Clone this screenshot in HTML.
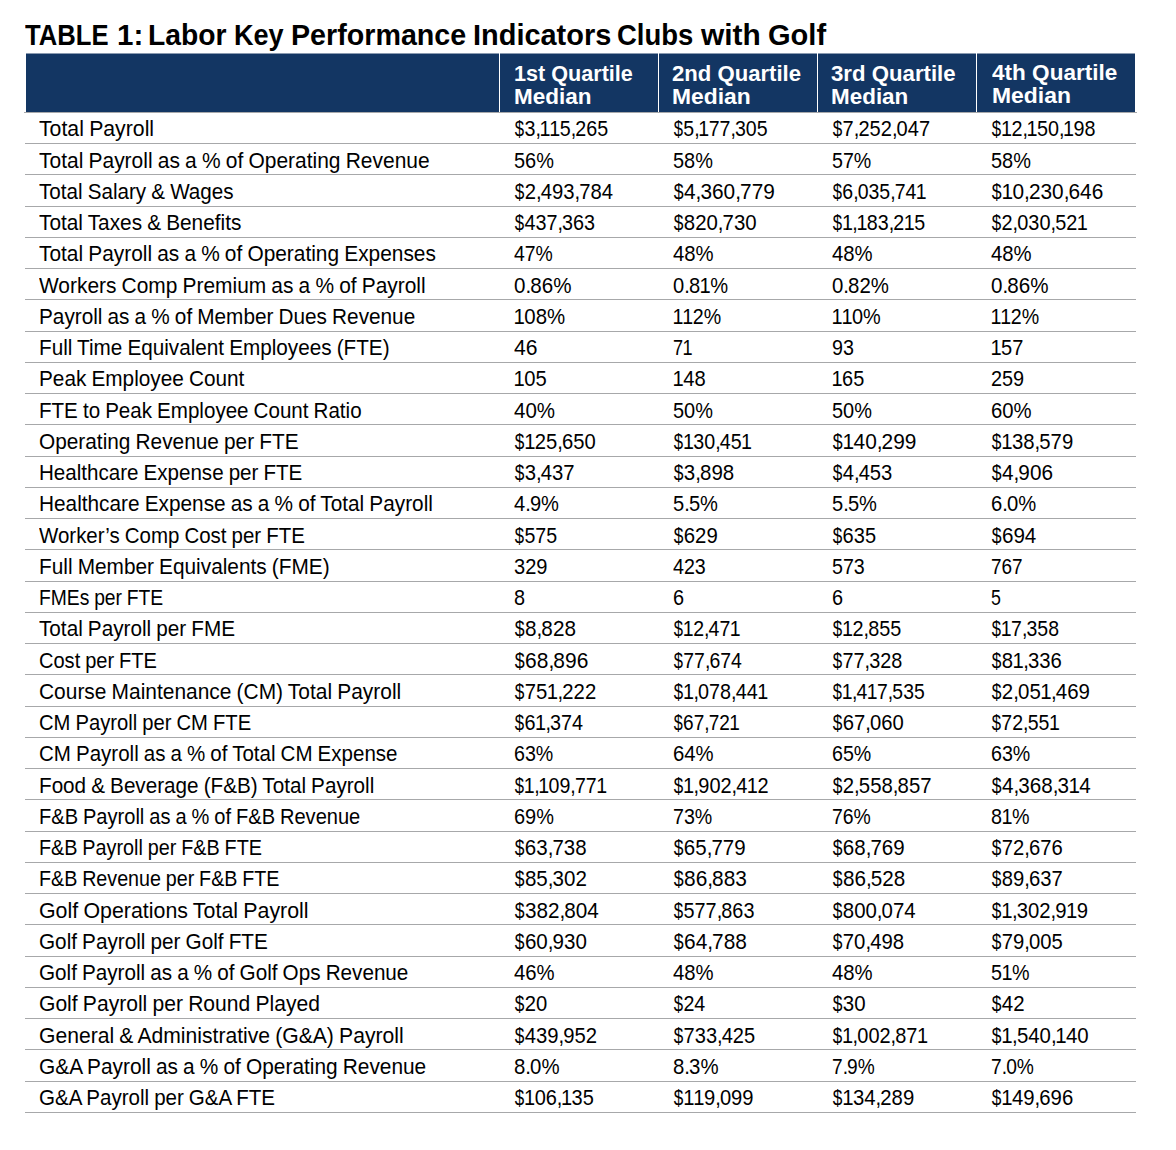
<!DOCTYPE html>
<html><head><meta charset="utf-8"><style>
html,body{margin:0;padding:0;background:#fff;}
body{width:1176px;height:1150px;position:relative;overflow:hidden;font-family:"Liberation Sans",sans-serif;color:#000;-webkit-text-stroke:0px;}
.t{position:absolute;white-space:nowrap;line-height:30px;font-size:22.5px;}
.s{display:inline-block;transform-origin:0 50%;}
.ln{position:absolute;height:1px;background:#a7a8aa;left:25px;width:1111px;}
.hd{position:absolute;left:26px;top:53px;width:1109px;height:59px;background:#133663;}
.hd i{position:absolute;left:0;top:0;width:100%;height:1px;background:#8a9ab0;}
.vd{position:absolute;top:0;width:1px;height:59px;background:#fff;}
.h{color:#fff;font-weight:bold;font-size:22.5px;}
i{font-style:normal;}
.o{margin:0 -0.6px;}
.c{margin-right:-1.0px;}
.p{margin-right:-1.0px;}
.d{display:inline-block;transform:scaleX(0.85);margin:0 -0.3px;}
</style></head><body>
<div class="t" style="left:25.0px;top:19.95px;font-size:29px;font-weight:bold"><span class="s" style="transform:scaleX(0.884)">TABLE</span></div>
<div class="t" style="left:116.76px;top:19.95px;font-size:29px;font-weight:bold"><span class="s" style="transform:scaleX(1.019)">1:</span></div>
<div class="t" style="left:148.45px;top:19.95px;font-size:29px;font-weight:bold"><span class="s" style="transform:scaleX(0.9744)">Labor</span></div>
<div class="t" style="left:234.33px;top:19.95px;font-size:29px;font-weight:bold"><span class="s" style="transform:scaleX(0.9333)">Key</span></div>
<div class="t" style="left:291.12px;top:19.95px;font-size:29px;font-weight:bold"><span class="s" style="transform:scaleX(0.9885)">Performance</span></div>
<div class="t" style="left:473.0px;top:19.95px;font-size:29px;font-weight:bold"><span class="s" style="transform:scaleX(0.9978)">Indicators</span></div>
<div class="t" style="left:617.45px;top:19.95px;font-size:29px;font-weight:bold"><span class="s" style="transform:scaleX(0.9474)">Clubs</span></div>
<div class="t" style="left:701.3px;top:19.95px;font-size:29px;font-weight:bold"><span class="s" style="transform:scaleX(1.0304)">with</span></div>
<div class="t" style="left:767.6px;top:19.95px;font-size:29px;font-weight:bold"><span class="s" style="transform:scaleX(1.0018)">Golf</span></div>
<div class="hd"><i></i><div class="vd" style="left:473px"></div><div class="vd" style="left:632px"></div><div class="vd" style="left:791px"></div><div class="vd" style="left:950px"></div></div>
<div class="t h" style="left:513.5px;top:59.20px"><span class="s" style="transform:scaleX(0.9603)">1st Quartile</span></div>
<div class="t h" style="left:513.5px;top:82.20px"><span class="s" style="transform:scaleX(0.9987)">Median</span></div>
<div class="t h" style="left:672.1px;top:59.20px"><span class="s" style="transform:scaleX(0.9832)">2nd Quartile</span></div>
<div class="t h" style="left:672.1px;top:82.20px"><span class="s" style="transform:scaleX(1.0158)">Median</span></div>
<div class="t h" style="left:831.2px;top:59.20px"><span class="s" style="transform:scaleX(0.9865)">3rd Quartile</span></div>
<div class="t h" style="left:831.2px;top:82.20px"><span class="s" style="transform:scaleX(0.9974)">Median</span></div>
<div class="t h" style="left:992px;top:58.20px"><span class="s" style="transform:scaleX(1.0024)">4th Quartile</span></div>
<div class="t h" style="left:992px;top:81.20px"><span class="s" style="transform:scaleX(1.0184)">Median</span></div>
<div class="ln" style="left:24px;width:1113px;top:112px"></div>
<div class="ln" style="top:143px"></div>
<div class="ln" style="top:174px"></div>
<div class="ln" style="top:206px"></div>
<div class="ln" style="top:237px"></div>
<div class="ln" style="top:268px"></div>
<div class="ln" style="top:299px"></div>
<div class="ln" style="top:331px"></div>
<div class="ln" style="top:362px"></div>
<div class="ln" style="top:393px"></div>
<div class="ln" style="top:424px"></div>
<div class="ln" style="top:456px"></div>
<div class="ln" style="top:487px"></div>
<div class="ln" style="top:518px"></div>
<div class="ln" style="top:549px"></div>
<div class="ln" style="top:581px"></div>
<div class="ln" style="top:612px"></div>
<div class="ln" style="top:643px"></div>
<div class="ln" style="top:674px"></div>
<div class="ln" style="top:706px"></div>
<div class="ln" style="top:737px"></div>
<div class="ln" style="top:768px"></div>
<div class="ln" style="top:799px"></div>
<div class="ln" style="top:831px"></div>
<div class="ln" style="top:862px"></div>
<div class="ln" style="top:893px"></div>
<div class="ln" style="top:924px"></div>
<div class="ln" style="top:956px"></div>
<div class="ln" style="top:987px"></div>
<div class="ln" style="top:1018px"></div>
<div class="ln" style="top:1049px"></div>
<div class="ln" style="top:1081px"></div>
<div class="ln" style="top:1112px"></div>
<div class="t" style="left:38.5px;top:114.00px;word-spacing:-0.7px"><span class="s" style="transform:scaleX(0.9444)">Total Payroll</span></div>
<div class="t" style="left:514px;top:114.00px"><span class="s" style="transform:scaleX(0.8748)"><i class="d">$</i>3<i class="c">,</i><i class="o">1</i><i class="o">1</i>5<i class="c">,</i>265</span></div>
<div class="t" style="left:673px;top:114.00px"><span class="s" style="transform:scaleX(0.8685)"><i class="d">$</i>5<i class="c">,</i><i class="o">1</i>77<i class="c">,</i>305</span></div>
<div class="t" style="left:832px;top:114.00px"><span class="s" style="transform:scaleX(0.8908)"><i class="d">$</i>7<i class="c">,</i>252<i class="c">,</i>047</span></div>
<div class="t" style="left:991px;top:114.00px"><span class="s" style="transform:scaleX(0.8780)"><i class="d">$</i><i class="o">1</i>2<i class="c">,</i><i class="o">1</i>50<i class="c">,</i><i class="o">1</i>98</span></div>
<div class="t" style="left:38.5px;top:146.00px;word-spacing:-0.7px"><span class="s" style="transform:scaleX(0.9321)">Total Payroll as a % of Operating Revenue</span></div>
<div class="t" style="left:514px;top:146.00px"><span class="s" style="transform:scaleX(0.8867)">56%</span></div>
<div class="t" style="left:673px;top:146.00px"><span class="s" style="transform:scaleX(0.8867)">58%</span></div>
<div class="t" style="left:832px;top:146.00px"><span class="s" style="transform:scaleX(0.8733)">57%</span></div>
<div class="t" style="left:991px;top:146.00px"><span class="s" style="transform:scaleX(0.8867)">58%</span></div>
<div class="t" style="left:38.5px;top:177.00px;word-spacing:-0.7px"><span class="s" style="transform:scaleX(0.9173)">Total Salary &amp; Wages</span></div>
<div class="t" style="left:514px;top:177.00px"><span class="s" style="transform:scaleX(0.9000)"><i class="d">$</i>2<i class="c">,</i>493<i class="c">,</i>784</span></div>
<div class="t" style="left:673px;top:177.00px"><span class="s" style="transform:scaleX(0.9248)"><i class="d">$</i>4<i class="c">,</i>360<i class="c">,</i>779</span></div>
<div class="t" style="left:832px;top:177.00px"><span class="s" style="transform:scaleX(0.8651)"><i class="d">$</i>6<i class="c">,</i>035<i class="c">,</i>74<i class="o">1</i></span></div>
<div class="t" style="left:991px;top:177.00px"><span class="s" style="transform:scaleX(0.9248)"><i class="d">$</i><i class="o">1</i>0<i class="c">,</i>230<i class="c">,</i>646</span></div>
<div class="t" style="left:38.5px;top:208.00px;word-spacing:-0.7px"><span class="s" style="transform:scaleX(0.9245)">Total Taxes &amp; Benefits</span></div>
<div class="t" style="left:514px;top:208.00px"><span class="s" style="transform:scaleX(0.8783)"><i class="d">$</i>437<i class="c">,</i>363</span></div>
<div class="t" style="left:673px;top:208.00px"><span class="s" style="transform:scaleX(0.9065)"><i class="d">$</i>820<i class="c">,</i>730</span></div>
<div class="t" style="left:832px;top:208.00px"><span class="s" style="transform:scaleX(0.8745)"><i class="d">$</i><i class="o">1</i><i class="c">,</i><i class="o">1</i>83<i class="c">,</i>2<i class="o">1</i>5</span></div>
<div class="t" style="left:991px;top:208.00px"><span class="s" style="transform:scaleX(0.8844)"><i class="d">$</i>2<i class="c">,</i>030<i class="c">,</i>52<i class="o">1</i></span></div>
<div class="t" style="left:38.5px;top:239.00px;word-spacing:-0.7px"><span class="s" style="transform:scaleX(0.9277)">Total Payroll as a % of Operating Expenses</span></div>
<div class="t" style="left:514px;top:239.00px"><span class="s" style="transform:scaleX(0.8622)">47%</span></div>
<div class="t" style="left:673px;top:239.00px"><span class="s" style="transform:scaleX(0.9022)">48%</span></div>
<div class="t" style="left:832px;top:239.00px"><span class="s" style="transform:scaleX(0.9022)">48%</span></div>
<div class="t" style="left:991px;top:239.00px"><span class="s" style="transform:scaleX(0.9022)">48%</span></div>
<div class="t" style="left:38.5px;top:271.00px;word-spacing:-0.7px"><span class="s" style="transform:scaleX(0.9293)">Workers Comp Premium as a % of Payroll</span></div>
<div class="t" style="left:514px;top:271.00px"><span class="s" style="transform:scaleX(0.9145)">0<i class="p">.</i>86%</span></div>
<div class="t" style="left:673px;top:271.00px"><span class="s" style="transform:scaleX(0.8934)">0<i class="p">.</i>8<i class="o">1</i>%</span></div>
<div class="t" style="left:832px;top:271.00px"><span class="s" style="transform:scaleX(0.9065)">0<i class="p">.</i>82%</span></div>
<div class="t" style="left:991px;top:271.00px"><span class="s" style="transform:scaleX(0.9145)">0<i class="p">.</i>86%</span></div>
<div class="t" style="left:38.5px;top:302.00px;word-spacing:-0.7px"><span class="s" style="transform:scaleX(0.9225)">Payroll as a % of Member Dues Revenue</span></div>
<div class="t" style="left:514px;top:302.00px"><span class="s" style="transform:scaleX(0.9071)"><i class="o">1</i>08%</span></div>
<div class="t" style="left:673px;top:302.00px"><span class="s" style="transform:scaleX(0.8727)"><i class="o">1</i><i class="o">1</i>2%</span></div>
<div class="t" style="left:832px;top:302.00px"><span class="s" style="transform:scaleX(0.8836)"><i class="o">1</i><i class="o">1</i>0%</span></div>
<div class="t" style="left:991px;top:302.00px"><span class="s" style="transform:scaleX(0.8727)"><i class="o">1</i><i class="o">1</i>2%</span></div>
<div class="t" style="left:38.5px;top:333.00px;word-spacing:-0.7px"><span class="s" style="transform:scaleX(0.9199)">Full Time Equivalent Employees (FTE)</span></div>
<div class="t" style="left:514px;top:333.00px"><span class="s" style="transform:scaleX(0.9375)">46</span></div>
<div class="t" style="left:673px;top:333.00px"><span class="s" style="transform:scaleX(0.8042)">7<i class="o">1</i></span></div>
<div class="t" style="left:832px;top:333.00px"><span class="s" style="transform:scaleX(0.8750)">93</span></div>
<div class="t" style="left:991px;top:333.00px"><span class="s" style="transform:scaleX(0.8914)"><i class="o">1</i>57</span></div>
<div class="t" style="left:38.5px;top:364.00px;word-spacing:-0.7px"><span class="s" style="transform:scaleX(0.9227)">Peak Employee Count</span></div>
<div class="t" style="left:514px;top:364.00px"><span class="s" style="transform:scaleX(0.8972)"><i class="o">1</i>05</span></div>
<div class="t" style="left:673px;top:364.00px"><span class="s" style="transform:scaleX(0.8972)"><i class="o">1</i>48</span></div>
<div class="t" style="left:832px;top:364.00px"><span class="s" style="transform:scaleX(0.8861)"><i class="o">1</i>65</span></div>
<div class="t" style="left:991px;top:364.00px"><span class="s" style="transform:scaleX(0.8838)">259</span></div>
<div class="t" style="left:38.5px;top:396.00px;word-spacing:-0.7px"><span class="s" style="transform:scaleX(0.9140)">FTE to Peak Employee Count Ratio</span></div>
<div class="t" style="left:514px;top:396.00px"><span class="s" style="transform:scaleX(0.9111)">40%</span></div>
<div class="t" style="left:673px;top:396.00px"><span class="s" style="transform:scaleX(0.8867)">50%</span></div>
<div class="t" style="left:832px;top:396.00px"><span class="s" style="transform:scaleX(0.8867)">50%</span></div>
<div class="t" style="left:991px;top:396.00px"><span class="s" style="transform:scaleX(0.9022)">60%</span></div>
<div class="t" style="left:38.5px;top:427.00px;word-spacing:-0.7px"><span class="s" style="transform:scaleX(0.9252)">Operating Revenue per FTE</span></div>
<div class="t" style="left:514px;top:427.00px"><span class="s" style="transform:scaleX(0.8978)"><i class="d">$</i><i class="o">1</i>25<i class="c">,</i>650</span></div>
<div class="t" style="left:673px;top:427.00px"><span class="s" style="transform:scaleX(0.8733)"><i class="d">$</i><i class="o">1</i>30<i class="c">,</i>45<i class="o">1</i></span></div>
<div class="t" style="left:832px;top:427.00px"><span class="s" style="transform:scaleX(0.9267)"><i class="d">$</i><i class="o">1</i>40<i class="c">,</i>299</span></div>
<div class="t" style="left:991px;top:427.00px"><span class="s" style="transform:scaleX(0.9022)"><i class="d">$</i><i class="o">1</i>38<i class="c">,</i>579</span></div>
<div class="t" style="left:38.5px;top:458.00px;word-spacing:-0.7px"><span class="s" style="transform:scaleX(0.9141)">Healthcare Expense per FTE</span></div>
<div class="t" style="left:514px;top:458.00px"><span class="s" style="transform:scaleX(0.9015)"><i class="d">$</i>3<i class="c">,</i>437</span></div>
<div class="t" style="left:673px;top:458.00px"><span class="s" style="transform:scaleX(0.9104)"><i class="d">$</i>3<i class="c">,</i>898</span></div>
<div class="t" style="left:832px;top:458.00px"><span class="s" style="transform:scaleX(0.8970)"><i class="d">$</i>4<i class="c">,</i>453</span></div>
<div class="t" style="left:991px;top:458.00px"><span class="s" style="transform:scaleX(0.9209)"><i class="d">$</i>4<i class="c">,</i>906</span></div>
<div class="t" style="left:38.5px;top:489.00px;word-spacing:-0.7px"><span class="s" style="transform:scaleX(0.9243)">Healthcare Expense as a % of Total Payroll</span></div>
<div class="t" style="left:514px;top:489.00px"><span class="s" style="transform:scaleX(0.8940)">4<i class="p">.</i>9%</span></div>
<div class="t" style="left:673px;top:489.00px"><span class="s" style="transform:scaleX(0.8940)">5<i class="p">.</i>5%</span></div>
<div class="t" style="left:832px;top:489.00px"><span class="s" style="transform:scaleX(0.8940)">5<i class="p">.</i>5%</span></div>
<div class="t" style="left:991px;top:489.00px"><span class="s" style="transform:scaleX(0.8980)">6<i class="p">.</i>0%</span></div>
<div class="t" style="left:38.5px;top:521.00px;word-spacing:-0.7px"><span class="s" style="transform:scaleX(0.9094)">Worker&#8217;s Comp Cost per FTE</span></div>
<div class="t" style="left:514px;top:521.00px"><span class="s" style="transform:scaleX(0.8714)"><i class="d">$</i>575</span></div>
<div class="t" style="left:673px;top:521.00px"><span class="s" style="transform:scaleX(0.9041)"><i class="d">$</i>629</span></div>
<div class="t" style="left:832px;top:521.00px"><span class="s" style="transform:scaleX(0.8898)"><i class="d">$</i>635</span></div>
<div class="t" style="left:991px;top:521.00px"><span class="s" style="transform:scaleX(0.9163)"><i class="d">$</i>694</span></div>
<div class="t" style="left:38.5px;top:552.00px;word-spacing:-0.7px"><span class="s" style="transform:scaleX(0.9247)">Full Member Equivalents (FME)</span></div>
<div class="t" style="left:514px;top:552.00px"><span class="s" style="transform:scaleX(0.8919)">329</span></div>
<div class="t" style="left:673px;top:552.00px"><span class="s" style="transform:scaleX(0.8730)">423</span></div>
<div class="t" style="left:832px;top:552.00px"><span class="s" style="transform:scaleX(0.8730)">573</span></div>
<div class="t" style="left:991px;top:552.00px"><span class="s" style="transform:scaleX(0.8432)">767</span></div>
<div class="t" style="left:38.5px;top:583.00px;word-spacing:-0.7px"><span class="s" style="transform:scaleX(0.8574)">FMEs per FTE</span></div>
<div class="t" style="left:514px;top:583.00px"><span class="s" style="transform:scaleX(0.8833)">8</span></div>
<div class="t" style="left:673px;top:583.00px"><span class="s" style="transform:scaleX(0.8833)">6</span></div>
<div class="t" style="left:832px;top:583.00px"><span class="s" style="transform:scaleX(0.8833)">6</span></div>
<div class="t" style="left:991px;top:583.00px"><span class="s" style="transform:scaleX(0.7917)">5</span></div>
<div class="t" style="left:38.5px;top:614.00px;word-spacing:-0.7px"><span class="s" style="transform:scaleX(0.9205)">Total Payroll per FME</span></div>
<div class="t" style="left:514px;top:614.00px"><span class="s" style="transform:scaleX(0.9209)"><i class="d">$</i>8<i class="c">,</i>828</span></div>
<div class="t" style="left:673px;top:614.00px"><span class="s" style="transform:scaleX(0.8662)"><i class="d">$</i><i class="o">1</i>2<i class="c">,</i>47<i class="o">1</i></span></div>
<div class="t" style="left:832px;top:614.00px"><span class="s" style="transform:scaleX(0.8821)"><i class="d">$</i><i class="o">1</i>2<i class="c">,</i>855</span></div>
<div class="t" style="left:991px;top:614.00px"><span class="s" style="transform:scaleX(0.8654)"><i class="d">$</i><i class="o">1</i>7<i class="c">,</i>358</span></div>
<div class="t" style="left:38.5px;top:646.00px;word-spacing:-0.7px"><span class="s" style="transform:scaleX(0.8905)">Cost per FTE</span></div>
<div class="t" style="left:514px;top:646.00px"><span class="s" style="transform:scaleX(0.9316)"><i class="d">$</i>68<i class="c">,</i>896</span></div>
<div class="t" style="left:673px;top:646.00px"><span class="s" style="transform:scaleX(0.8633)"><i class="d">$</i>77<i class="c">,</i>674</span></div>
<div class="t" style="left:832px;top:646.00px"><span class="s" style="transform:scaleX(0.8823)"><i class="d">$</i>77<i class="c">,</i>328</span></div>
<div class="t" style="left:991px;top:646.00px"><span class="s" style="transform:scaleX(0.9013)"><i class="d">$</i>8<i class="o">1</i><i class="c">,</i>336</span></div>
<div class="t" style="left:38.5px;top:677.00px;word-spacing:-0.7px"><span class="s" style="transform:scaleX(0.9300)">Course Maintenance (CM) Total Payroll</span></div>
<div class="t" style="left:514px;top:677.00px"><span class="s" style="transform:scaleX(0.9022)"><i class="d">$</i>75<i class="o">1</i><i class="c">,</i>222</span></div>
<div class="t" style="left:673px;top:677.00px"><span class="s" style="transform:scaleX(0.8787)"><i class="d">$</i><i class="o">1</i><i class="c">,</i>078<i class="c">,</i>44<i class="o">1</i></span></div>
<div class="t" style="left:832px;top:677.00px"><span class="s" style="transform:scaleX(0.8607)"><i class="d">$</i><i class="o">1</i><i class="c">,</i>4<i class="o">1</i>7<i class="c">,</i>535</span></div>
<div class="t" style="left:991px;top:677.00px"><span class="s" style="transform:scaleX(0.9093)"><i class="d">$</i>2<i class="c">,</i>05<i class="o">1</i><i class="c">,</i>469</span></div>
<div class="t" style="left:38.5px;top:708.00px;word-spacing:-0.7px"><span class="s" style="transform:scaleX(0.8989)">CM Payroll per CM FTE</span></div>
<div class="t" style="left:514px;top:708.00px"><span class="s" style="transform:scaleX(0.8795)"><i class="d">$</i>6<i class="o">1</i><i class="c">,</i>374</span></div>
<div class="t" style="left:673px;top:708.00px"><span class="s" style="transform:scaleX(0.8443)"><i class="d">$</i>67<i class="c">,</i>72<i class="o">1</i></span></div>
<div class="t" style="left:832px;top:708.00px"><span class="s" style="transform:scaleX(0.8987)"><i class="d">$</i>67<i class="c">,</i>060</span></div>
<div class="t" style="left:991px;top:708.00px"><span class="s" style="transform:scaleX(0.8684)"><i class="d">$</i>72<i class="c">,</i>55<i class="o">1</i></span></div>
<div class="t" style="left:38.5px;top:739.00px;word-spacing:-0.7px"><span class="s" style="transform:scaleX(0.9124)">CM Payroll as a % of Total CM Expense</span></div>
<div class="t" style="left:514px;top:739.00px"><span class="s" style="transform:scaleX(0.8733)">63%</span></div>
<div class="t" style="left:673px;top:739.00px"><span class="s" style="transform:scaleX(0.9022)">64%</span></div>
<div class="t" style="left:832px;top:739.00px"><span class="s" style="transform:scaleX(0.8733)">65%</span></div>
<div class="t" style="left:991px;top:739.00px"><span class="s" style="transform:scaleX(0.8733)">63%</span></div>
<div class="t" style="left:38.5px;top:771.00px;word-spacing:-0.7px"><span class="s" style="transform:scaleX(0.9186)">Food &amp; Beverage (F&amp;B) Total Payroll</span></div>
<div class="t" style="left:514px;top:771.00px"><span class="s" style="transform:scaleX(0.8689)"><i class="d">$</i><i class="o">1</i><i class="c">,</i><i class="o">1</i>09<i class="c">,</i>77<i class="o">1</i></span></div>
<div class="t" style="left:673px;top:771.00px"><span class="s" style="transform:scaleX(0.8869)"><i class="d">$</i><i class="o">1</i><i class="c">,</i>902<i class="c">,</i>4<i class="o">1</i>2</span></div>
<div class="t" style="left:832px;top:771.00px"><span class="s" style="transform:scaleX(0.9046)"><i class="d">$</i>2<i class="c">,</i>558<i class="c">,</i>857</span></div>
<div class="t" style="left:991px;top:771.00px"><span class="s" style="transform:scaleX(0.9167)"><i class="d">$</i>4<i class="c">,</i>368<i class="c">,</i>3<i class="o">1</i>4</span></div>
<div class="t" style="left:38.5px;top:802.00px;word-spacing:-0.7px"><span class="s" style="transform:scaleX(0.8918)">F&amp;B Payroll as a % of F&amp;B Revenue</span></div>
<div class="t" style="left:514px;top:802.00px"><span class="s" style="transform:scaleX(0.8867)">69%</span></div>
<div class="t" style="left:673px;top:802.00px"><span class="s" style="transform:scaleX(0.8733)">73%</span></div>
<div class="t" style="left:832px;top:802.00px"><span class="s" style="transform:scaleX(0.8622)">76%</span></div>
<div class="t" style="left:991px;top:802.00px"><span class="s" style="transform:scaleX(0.8767)">8<i class="o">1</i>%</span></div>
<div class="t" style="left:38.5px;top:833.00px;word-spacing:-0.7px"><span class="s" style="transform:scaleX(0.8796)">F&amp;B Payroll per F&amp;B FTE</span></div>
<div class="t" style="left:514px;top:833.00px"><span class="s" style="transform:scaleX(0.9101)"><i class="d">$</i>63<i class="c">,</i>738</span></div>
<div class="t" style="left:673px;top:833.00px"><span class="s" style="transform:scaleX(0.9101)"><i class="d">$</i>65<i class="c">,</i>779</span></div>
<div class="t" style="left:832px;top:833.00px"><span class="s" style="transform:scaleX(0.9101)"><i class="d">$</i>68<i class="c">,</i>769</span></div>
<div class="t" style="left:991px;top:833.00px"><span class="s" style="transform:scaleX(0.8987)"><i class="d">$</i>72<i class="c">,</i>676</span></div>
<div class="t" style="left:38.5px;top:864.00px;word-spacing:-0.7px"><span class="s" style="transform:scaleX(0.8750)">F&amp;B Revenue per F&amp;B FTE</span></div>
<div class="t" style="left:514px;top:864.00px"><span class="s" style="transform:scaleX(0.9127)"><i class="d">$</i>85<i class="c">,</i>302</span></div>
<div class="t" style="left:673px;top:864.00px"><span class="s" style="transform:scaleX(0.9266)"><i class="d">$</i>86<i class="c">,</i>883</span></div>
<div class="t" style="left:832px;top:864.00px"><span class="s" style="transform:scaleX(0.9177)"><i class="d">$</i>86<i class="c">,</i>528</span></div>
<div class="t" style="left:991px;top:864.00px"><span class="s" style="transform:scaleX(0.8987)"><i class="d">$</i>89<i class="c">,</i>637</span></div>
<div class="t" style="left:38.5px;top:896.00px;word-spacing:-0.7px"><span class="s" style="transform:scaleX(0.9497)">Golf Operations Total Payroll</span></div>
<div class="t" style="left:514px;top:896.00px"><span class="s" style="transform:scaleX(0.9185)"><i class="d">$</i>382<i class="c">,</i>804</span></div>
<div class="t" style="left:673px;top:896.00px"><span class="s" style="transform:scaleX(0.8826)"><i class="d">$</i>577<i class="c">,</i>863</span></div>
<div class="t" style="left:832px;top:896.00px"><span class="s" style="transform:scaleX(0.9065)"><i class="d">$</i>800<i class="c">,</i>074</span></div>
<div class="t" style="left:991px;top:896.00px"><span class="s" style="transform:scaleX(0.9009)"><i class="d">$</i><i class="o">1</i><i class="c">,</i>302<i class="c">,</i>9<i class="o">1</i>9</span></div>
<div class="t" style="left:38.5px;top:927.00px;word-spacing:-0.7px"><span class="s" style="transform:scaleX(0.9208)">Golf Payroll per Golf FTE</span></div>
<div class="t" style="left:514px;top:927.00px"><span class="s" style="transform:scaleX(0.9127)"><i class="d">$</i>60<i class="c">,</i>930</span></div>
<div class="t" style="left:673px;top:927.00px"><span class="s" style="transform:scaleX(0.9266)"><i class="d">$</i>64<i class="c">,</i>788</span></div>
<div class="t" style="left:832px;top:927.00px"><span class="s" style="transform:scaleX(0.9038)"><i class="d">$</i>70<i class="c">,</i>498</span></div>
<div class="t" style="left:991px;top:927.00px"><span class="s" style="transform:scaleX(0.8987)"><i class="d">$</i>79<i class="c">,</i>005</span></div>
<div class="t" style="left:38.5px;top:958.00px;word-spacing:-0.7px"><span class="s" style="transform:scaleX(0.9186)">Golf Payroll as a % of Golf Ops Revenue</span></div>
<div class="t" style="left:514px;top:958.00px"><span class="s" style="transform:scaleX(0.9022)">46%</span></div>
<div class="t" style="left:673px;top:958.00px"><span class="s" style="transform:scaleX(0.9022)">48%</span></div>
<div class="t" style="left:832px;top:958.00px"><span class="s" style="transform:scaleX(0.9022)">48%</span></div>
<div class="t" style="left:991px;top:958.00px"><span class="s" style="transform:scaleX(0.8767)">5<i class="o">1</i>%</span></div>
<div class="t" style="left:38.5px;top:989.00px;word-spacing:-0.7px"><span class="s" style="transform:scaleX(0.9367)">Golf Payroll per Round Played</span></div>
<div class="t" style="left:514px;top:989.00px"><span class="s" style="transform:scaleX(0.8972)"><i class="d">$</i>20</span></div>
<div class="t" style="left:673px;top:989.00px"><span class="s" style="transform:scaleX(0.8730)"><i class="d">$</i>24</span></div>
<div class="t" style="left:832px;top:989.00px"><span class="s" style="transform:scaleX(0.9083)"><i class="d">$</i>30</span></div>
<div class="t" style="left:991px;top:989.00px"><span class="s" style="transform:scaleX(0.9083)"><i class="d">$</i>42</span></div>
<div class="t" style="left:38.5px;top:1021.00px;word-spacing:-0.7px"><span class="s" style="transform:scaleX(0.9383)">General &amp; Administrative (G&amp;A) Payroll</span></div>
<div class="t" style="left:514px;top:1021.00px"><span class="s" style="transform:scaleX(0.9000)"><i class="d">$</i>439<i class="c">,</i>952</span></div>
<div class="t" style="left:673px;top:1021.00px"><span class="s" style="transform:scaleX(0.8902)"><i class="d">$</i>733<i class="c">,</i>425</span></div>
<div class="t" style="left:832px;top:1021.00px"><span class="s" style="transform:scaleX(0.8870)"><i class="d">$</i><i class="o">1</i><i class="c">,</i>002<i class="c">,</i>87<i class="o">1</i></span></div>
<div class="t" style="left:991px;top:1021.00px"><span class="s" style="transform:scaleX(0.9075)"><i class="d">$</i><i class="o">1</i><i class="c">,</i>540<i class="c">,</i><i class="o">1</i>40</span></div>
<div class="t" style="left:38.5px;top:1052.00px;word-spacing:-0.7px"><span class="s" style="transform:scaleX(0.9267)">G&amp;A Payroll as a % of Operating Revenue</span></div>
<div class="t" style="left:514px;top:1052.00px"><span class="s" style="transform:scaleX(0.9060)">8<i class="p">.</i>0%</span></div>
<div class="t" style="left:673px;top:1052.00px"><span class="s" style="transform:scaleX(0.9060)">8<i class="p">.</i>3%</span></div>
<div class="t" style="left:832px;top:1052.00px"><span class="s" style="transform:scaleX(0.8500)">7<i class="p">.</i>9%</span></div>
<div class="t" style="left:991px;top:1052.00px"><span class="s" style="transform:scaleX(0.8540)">7<i class="p">.</i>0%</span></div>
<div class="t" style="left:38.5px;top:1083.00px;word-spacing:-0.7px"><span class="s" style="transform:scaleX(0.9126)">G&amp;A Payroll per G&amp;A FTE</span></div>
<div class="t" style="left:514px;top:1083.00px"><span class="s" style="transform:scaleX(0.8876)"><i class="d">$</i><i class="o">1</i>06<i class="c">,</i><i class="o">1</i>35</span></div>
<div class="t" style="left:673px;top:1083.00px"><span class="s" style="transform:scaleX(0.8955)"><i class="d">$</i><i class="o">1</i><i class="o">1</i>9<i class="c">,</i>099</span></div>
<div class="t" style="left:832px;top:1083.00px"><span class="s" style="transform:scaleX(0.9022)"><i class="d">$</i><i class="o">1</i>34<i class="c">,</i>289</span></div>
<div class="t" style="left:991px;top:1083.00px"><span class="s" style="transform:scaleX(0.9022)"><i class="d">$</i><i class="o">1</i>49<i class="c">,</i>696</span></div>
</body></html>
